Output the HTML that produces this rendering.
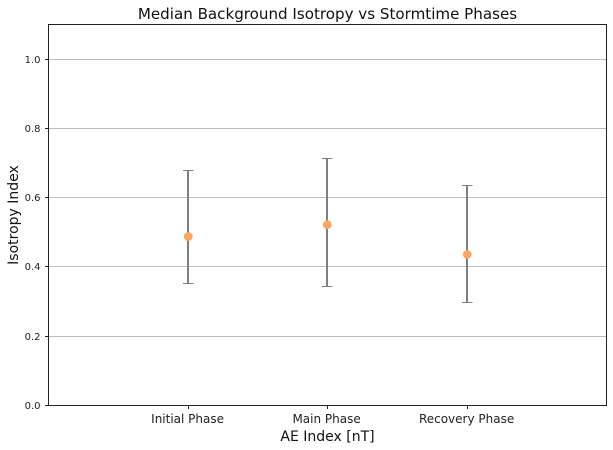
<!DOCTYPE html>
<html>
<head>
<meta charset="utf-8">
<style>
html,body{margin:0;padding:0;background:#fff;}
svg{display:block;font-family:"DejaVu Sans",sans-serif;}
</style>
</head>
<body>
<svg id="chart" width="613" height="450" viewBox="0 0 613 450" xmlns="http://www.w3.org/2000/svg">
<rect width="613" height="450" fill="#fff"/>
<g id="grid"></g>
<g id="marks"></g>
<rect x="48.5" y="24.5" width="558" height="381" fill="none" stroke="#222" stroke-width="1"/>
<g id="ticks"></g>
<text x="327.5" y="19" text-anchor="middle" font-size="15.1" fill="#111">Median Background Isotropy vs Stormtime Phases</text>
<text x="327.5" y="441" text-anchor="middle" font-size="14" fill="#111">AE Index [nT]</text>
<text x="18" y="215" text-anchor="middle" font-size="14" fill="#111" transform="rotate(-90 18 215)">Isotropy Index</text>
</svg>
<script>
const categories = ['Initial Phase', 'Main Phase', 'Recovery Phase'];
const medians = [0.488, 0.522, 0.436];
const lowers = [0.353, 0.343, 0.297];
const uppers = [0.678, 0.713, 0.635];
const yTicks = [0, 0.2, 0.4, 0.6, 0.8, 1.0];
const yTickLabels = ['0.0', '0.2', '0.4', '0.6', '0.8', '1.0'];

const NS = 'http://www.w3.org/2000/svg';
function xScale(i) { return 48.4 + (i + 1) * 139.5; }
function yScale(v) { return 405.3 - v * 346; }
function snap(p) { return Math.floor(p) + 0.5; }
function make(parent, tag, attrs) {
  const el = document.createElementNS(NS, tag);
  for (const k in attrs) el.setAttribute(k, attrs[k]);
  parent.appendChild(el);
  return el;
}
const grid = document.getElementById('grid');
const ticks = document.getElementById('ticks');
const marks = document.getElementById('marks');

yTicks.forEach(function (t, i) {
  const y = snap(yScale(t));
  if (t > 0) {
    const g = make(grid, 'line', {x1: 48, x2: 606, y1: y, y2: y, stroke: '#bcbcbc', 'stroke-width': 1});
    
    
  }
  const m = make(ticks, 'line', {x1: 45, x2: 48, y1: y, y2: y, stroke: '#222', 'stroke-width': 1});
  
  
  const l = make(ticks, 'text', {x: 40.5, y: y + 3.5, 'text-anchor': 'end', 'font-size': 10, fill: '#222'});
  
  
  l.textContent = yTickLabels[i];
});

categories.forEach(function (c, i) {
  const x = Math.round(xScale(i));
  const m = make(ticks, 'line', {x1: x + 0.5, x2: x + 0.5, y1: 405.5, y2: 409, stroke: '#222', 'stroke-width': 1});
  
  
  const l = make(ticks, 'text', {x: x - 0.4, y: 423, 'text-anchor': 'middle', 'font-size': 12, fill: '#222'});
  
  
  l.textContent = c;

  const yHi = snap(yScale(uppers[i]));
  const yLo = snap(yScale(lowers[i]));
  const bar = make(marks, 'line', {x1: x, x2: x, y1: yHi, y2: yLo, stroke: '#7f7f7f', 'stroke-width': 2});
  
  
  [yHi, yLo].forEach(function (y) {
    const cap = make(marks, 'line', {x1: x - 5, x2: x + 5.5, y1: y, y2: y, stroke: '#7f7f7f', 'stroke-width': 1});
    
    
  });
  const dot = make(marks, 'circle', {cx: x + 0.3, cy: yScale(medians[i]), r: 4.4, fill: '#fda662'});
  
  
});
</script>
</body>
</html>
